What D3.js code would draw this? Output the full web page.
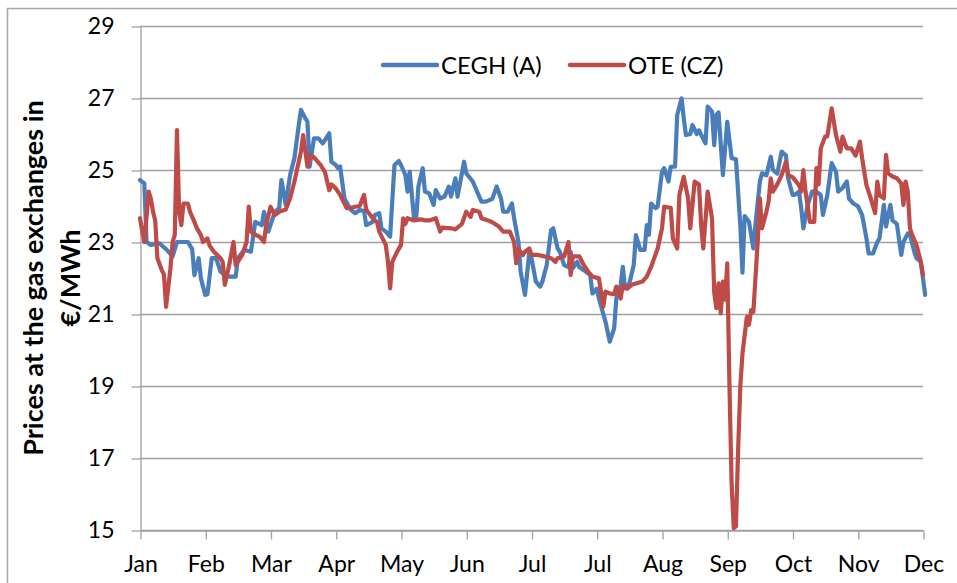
<!DOCTYPE html>
<html>
<head>
<meta charset="utf-8">
<script src="https://cdn.jsdelivr.net/npm/d3@7"></script>
<style>
	body { margin: 0; background: #fff; }
	svg { display: block; font-family: Lato, "Open Sans", sans-serif; }
</style>
</head>
<body>
<div id="chart"></div>
<script>
// --------- Data --------- //
// day of the year (0 = start of Jan)
var cegDays = [0,2,3,5,9,12,15,17,22,24,25,27,28,30,31,33,35,37,40,44,45,48,51,53,56,57,59,62,64,65,67,69,71,73,74,76,77,78,80,82,84,85,87,88,90,91,92,94,97,99,101,103,104,107,108,110,111,113,115,117,119,120,122,123,124,126,127,128,130,131,133,135,136,138,140,142,143,145,146,149,150,153,155,157,159,162,164,166,167,169,171,172,174,175,177,179,180,182,184,185,187,189,190,192,193,195,197,198,199,201,202,205,207,208,210,211,214,216,218,219,221,222,223,225,227,228,230,232,233,234,235,237,238,240,241,243,244,246,247,249,250,251,253,254,256,257,260,261,263,264,265,266,268,270,272,274,276,277,278,280,282,283,285,286,288,290,291,293,295,297,298,300,301,303,304,305,307,309,311,313,314,316,318,320,321,323,325,326,328,330,332,334,335,337,339,340,342,343,345,346,348,350,351,353,354,356,357,359,361];
var cegPrices = [24.72,24.63,23.0,22.92,22.96,22.8,22.6,23.0,23.0,22.8,22.08,22.55,21.99,21.53,21.55,22.55,22.55,22.18,22.04,22.04,22.55,22.78,22.73,23.56,23.47,23.84,23.29,23.84,23.94,24.72,24.03,24.86,25.33,26.25,26.67,26.44,26.34,25.09,25.88,25.88,25.74,25.83,26.02,25.23,25.14,25.05,25.1,24.21,23.89,23.8,23.89,23.86,23.47,23.56,23.75,23.8,23.38,23.29,23.15,25.14,25.25,25.14,24.86,24.4,24.95,23.66,23.66,24.54,25.05,24.4,24.35,24.03,24.44,24.21,24.26,24.54,24.26,24.77,24.26,25.23,24.91,24.68,24.4,24.12,24.12,24.2,24.54,24.2,23.84,23.84,24.07,23.66,23.0,22.18,21.53,22.73,22.55,21.9,21.76,21.9,22.36,23.33,23.38,22.82,22.73,22.36,22.3,22.73,22.27,22.45,22.3,22.18,22.08,21.57,21.7,21.43,20.79,20.23,20.6,21.43,21.81,22.31,21.71,21.85,22.36,23.19,22.78,22.78,23.47,23.2,24.07,23.94,23.98,24.95,25.05,24.68,25.09,25.09,26.53,26.99,26.44,25.97,26.0,26.25,26.0,26.1,25.74,26.76,26.62,25.69,26.53,26.6,24.86,26.34,25.33,25.3,23.47,22.15,23.72,23.56,22.82,23.5,24.68,24.91,24.85,25.37,25.0,24.9,25.51,25.4,24.77,24.31,24.31,24.4,23.94,23.38,24.03,24.4,24.4,24.3,23.75,24.3,25.19,24.95,24.4,24.5,24.68,24.2,24.07,24.0,23.75,23.1,22.68,22.68,23.0,23.1,24.03,23.43,24.03,23.6,23.5,22.64,23.0,23.24,23.2,22.73,22.55,22.45,21.53];

var oteDays = [0,1,2,4,5,6,7,8,10,11,12,14,15,16,17,18,19,20,22,23,25,26,28,29,31,32,34,37,38,39,41,43,44,47,49,50,51,53,55,57,58,60,62,64,67,69,71,74,75,77,78,80,83,85,87,88,90,92,95,97,99,101,103,104,107,109,110,113,114,115,116,118,120,121,122,123,126,129,131,133,136,138,139,143,145,148,150,152,153,156,157,160,162,165,167,170,172,173,174,176,177,179,180,183,186,189,191,192,195,197,198,199,202,204,206,208,211,213,214,216,218,219,221,222,224,226,228,231,233,235,238,240,241,244,245,247,248,250,252,253,255,257,258,259,261,263,264,265,266,267,268,269,270,271,272,273,274,275,276,277,279,280,281,282,284,285,286,288,289,290,291,293,295,297,298,300,303,304,305,306,308,310,311,312,313,315,316,318,320,322,323,325,327,329,331,332,334,336,338,339,340,342,343,344,346,348,350,351,352,353,354,355,357,359,360];
var otePrices = [23.66,23.3,23.0,24.4,24.2,23.84,23.6,22.55,22.22,22.1,21.2,22.27,23.0,23.2,26.11,23.84,23.47,24.07,24.07,23.84,23.56,23.4,23.19,23.0,23.1,22.9,22.73,22.55,22.45,21.81,22.36,23.0,22.36,22.64,23.0,23.98,23.29,23.2,23.15,23.0,23.47,23.98,23.75,23.84,23.9,24.21,24.68,25.51,25.97,25.09,25.42,25.35,25.14,24.95,24.44,24.6,24.49,24.31,23.94,23.95,23.98,24.0,24.31,23.9,23.66,23.55,23.29,22.92,22.45,21.71,22.45,22.7,22.92,23.66,23.5,23.66,23.6,23.63,23.6,23.6,23.66,23.29,23.4,23.38,23.35,23.5,23.84,23.7,23.89,23.84,23.66,23.6,23.55,23.43,23.29,23.29,23.0,22.41,22.8,22.64,22.73,22.82,22.64,22.64,22.6,22.55,22.45,22.55,22.6,23.0,22.08,22.6,22.6,22.36,22.18,22.04,21.99,21.2,21.62,21.57,21.55,21.76,21.43,21.81,21.7,21.81,21.85,21.9,22.04,22.31,22.82,23.38,23.98,23.95,23.1,22.82,24.31,24.81,24.21,23.38,24.68,24.6,23.47,22.82,24.4,23.66,21.6,21.16,21.85,21.02,21.9,21.4,22.41,19.07,16.3,15.05,15.1,17.22,18.98,19.9,20.92,20.7,21.11,21.06,23.0,24.21,23.38,23.84,24.12,24.77,24.4,24.6,24.86,25.23,24.86,24.8,24.58,24.4,25.0,24.4,23.56,23.56,25.05,24.6,25.6,25.93,25.93,26.71,25.97,25.51,25.93,25.6,25.6,25.4,25.79,25.33,24.58,24.21,23.8,24.68,24.3,24.21,25.42,24.91,24.82,24.77,24.63,24.03,24.68,24.4,23.38,23.2,22.92,22.45,22.08];

var seriesNames = ["CEGH (A)", "OTE (CZ)"];
var seriesColors = ["#4a7ebb", "#be4b48"];

// tick labels as printed on the original (Jul appears twice)
var monthTicks = [0,30,60,90,120,150,180,210,240,270,300,330,360];
var monthLabels = ["Jan","Feb","Mar","Apr","May","Jun","Jul","Jul","Aug","Sep","Oct","Nov","Dec"];
var priceTicks = [15,17,19,21,23,25,27,29];
// --------- /Data --------- //

var width = 957, height = 583;
var plot = {left: 140, right: 923, top: 26, bottom: 530};

var svg = d3.select("#chart").append("svg")
	.attr("width", width)
	.attr("height", height);

// outer frame (only top and left edges fall inside the picture)
svg.append("rect")
	.attr("x", 7.5).attr("y", 8.5)
	.attr("width", 980).attr("height", 600)
	.attr("fill", "none")
	.attr("stroke", "#a6a6a6")
	.attr("stroke-width", 1.5);

var x = d3.scaleLinear().domain([0, 360]).range([plot.left, plot.right]);
var y = d3.scaleLinear().domain([15, 29]).range([plot.bottom, plot.top]);

// horizontal gridlines
svg.append("g").selectAll("line")
	.data(priceTicks)
	.join("line")
	.attr("x1", plot.left)
	.attr("x2", plot.right)
	.attr("y1", function(d){ return Math.round(y(d)) + 0.5; })
	.attr("y2", function(d){ return Math.round(y(d)) + 0.5; })
	.attr("stroke", "#a0a0a0")
	.attr("stroke-width", 1.3);

// y axis
var yAxis = svg.append("g")
	.attr("transform", "translate(" + (plot.left + 0.5) + ",0.5)")
	.call(d3.axisLeft(y).tickValues(priceTicks).tickSize(9).tickPadding(17).tickSizeOuter(0));

// x axis
var xAxis = svg.append("g")
	.attr("transform", "translate(0.5," + (plot.bottom + 0.5) + ")")
	.call(d3.axisBottom(x).tickValues(monthTicks).tickSize(9).tickPadding(16).tickSizeOuter(0)
		.tickFormat(function(d, i){ return monthLabels[i]; }));

[yAxis, xAxis].forEach(function(g){
	g.select(".domain").attr("stroke", "#a0a0a0").attr("stroke-width", 1.3);
	g.selectAll(".tick line").attr("stroke", "#a0a0a0").attr("stroke-width", 1.3);
	g.selectAll(".tick text").attr("fill", "#000").style("font-size", "23px").style("font-family", "Lato, sans-serif");
});

// the lines, CEGH first so OTE sits on top
var line = d3.line()
	.x(function(d){ return x(d[0]); })
	.y(function(d){ return y(d[1]); });

var series = [
	d3.zip(cegDays, cegPrices),
	d3.zip(oteDays, otePrices)
];

svg.append("g").selectAll("path")
	.data(series)
	.join("path")
	.attr("d", line)
	.attr("fill", "none")
	.attr("stroke", function(d, i){ return seriesColors[i]; })
	.attr("stroke-width", 4.2)
	.attr("stroke-linejoin", "round")
	.attr("stroke-linecap", "round");

// legend
var legendX = [383, 570];
var legend = svg.append("g").selectAll("g")
	.data(seriesNames)
	.join("g")
	.attr("transform", function(d, i){ return "translate(" + legendX[i] + ",65)"; });

legend.append("line")
	.attr("x1", 0).attr("x2", 54)
	.attr("stroke", function(d, i){ return seriesColors[i]; })
	.attr("stroke-width", 4.5)
	.attr("stroke-linecap", "round");

legend.append("text")
	.attr("x", 58)
	.attr("y", 9)
	.style("font-size", "24px")
	.text(function(d){ return d; });

// y axis title, two rotated lines
var title = svg.append("text")
	.attr("transform", "translate(43," + ((plot.top + plot.bottom) / 2) + ") rotate(-90)")
	.attr("text-anchor", "middle")
	.style("font-size", "27px")
	.style("font-weight", "bold");
title.append("tspan").attr("x", 0).attr("y", 0).text("Prices at the gas exchanges in");
title.append("tspan").attr("x", 0).attr("y", 37).text("€/MWh");
</script>
</body>
</html>
